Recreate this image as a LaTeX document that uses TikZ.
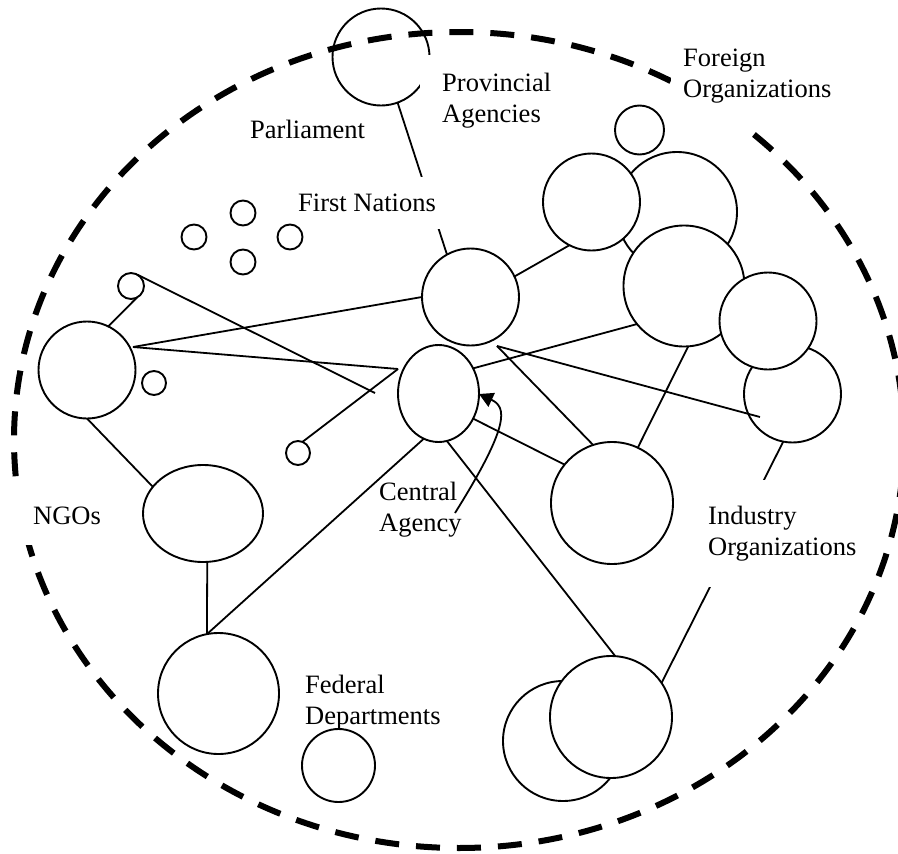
\documentclass[tikz,border=0pt]{standalone}
\usepackage{fontspec}
\setmainfont{Liberation Serif}
\usetikzlibrary{shapes.geometric,arrows.meta}
\begin{document}
\begin{tikzpicture}[x=1pt,y=-1pt,
  orb/.style={circle,draw,fill=white,line width=1.9pt,inner sep=0pt,outer sep=0pt,minimum size=#1},
  oval/.style 2 args={ellipse,draw,fill=white,line width=1.9pt,inner sep=0pt,outer sep=0pt,minimum width=#1,minimum height=#2},
  link/.style={line width=1.8pt},
  lbl/.style={font=\fontsize{26.5}{31}\selectfont,align=left,anchor=north west,inner sep=0pt},
  mask/.style={fill=white}]

\fill[white] (0,0) rectangle (898,854);
\useasboundingbox (0,0) rectangle (898,854);

% actors
\node[orb=97pt] (prov) at (381,57) {};
\node[orb=49pt] (c1) at (639.5,130) {};
\node[orb=120pt] (c3) at (677,212) {};
\node[orb=97pt] (c2) at (591.5,202) {};
\node[orb=121pt] (c4) at (684,286) {};
\node[orb=97pt] (c5b) at (792.5,394) {};
\node[orb=97pt] (c5a) at (768,321) {};
\node[orb=97pt] (fn) at (470.5,297) {};
\node[oval={81pt}{97pt}] (cen) at (438.5,393.5) {};
\node[orb=122pt] (c6) at (612,503) {};
\node[orb=120pt] (b1) at (563,741) {};
\node[orb=122pt] (b2) at (611,717) {};
\node[orb=97pt] (ngo) at (87,370) {};
\node[orb=26pt] (sa) at (131,286) {};
\node[orb=24pt] (sb) at (154,383) {};
\node[orb=24pt] (sc) at (298,453) {};
\node[oval={120pt}{97pt}] (ngoe) at (203,513.5) {};
\node[orb=121pt] (fed) at (218.5,693.5) {};
\node[orb=73pt] (fed2) at (338.5,765.5) {};

% policy community boundary
\draw[line width=6pt, dash pattern=on 24pt off 17pt] (459,440) ellipse [x radius=445pt, y radius=408pt];

% free ends and bends of the links
\coordinate (v1) at (133,347);
\coordinate (v2) at (398,369);
\coordinate (v3) at (497,346);
\coordinate (e1) at (375,393);
\coordinate (e2) at (760,417);
\coordinate (a0) at (455,513);
\coordinate (a1) at (479,394);

% links
\draw[link] (prov.-70) -- (fn.119);
\draw[link] (sa.-63) -- (ngo.64);
\draw[link] (sa.61) -- (e1);
\draw[link] (v1) -- (fn.west);
\draw[link] (v1) -- (v2);
\draw[link] (v2) -- (sc.68);
\draw[link] (cen.252) -- (fed.101);
\draw[link] (ngoe.-85) -- (fed.101);
\draw[link] (ngo.south) -- (ngoe.152);
\draw[link] (fn.25) -- (c2.243);
\draw[link] (cen.36) -- (c4.219);
\draw[link] (v3) -- (c6.108);
\draw[link] (v3) -- (e2);
\draw[link] (cen.-36) -- (c6.141);
\draw[link] (c4.-86) -- (c6.65);
\draw[link] (cen.-80) -- (b2.86);
\draw[link] (c5b.259) -- (b2.34);
\draw[link,-{Triangle[length=14pt,width=15pt]}] (a0) .. controls (510,425) and (507,407) .. (a1);

% labels
\node[lbl,mask,inner xsep=22pt,inner ysep=18pt] (provlbl) at (420,55) {Provincial\\Agencies};
\node[lbl] (parl) at (250,120) {Parliament};
\node[lbl,mask,inner xsep=8pt,inner ysep=17pt] (fnlbl) at (290,177) {First Nations};
\node[lbl,mask,inner xsep=12pt,inner ysep=24pt] (forlbl) at (671,25) {Foreign\\Organizations};
\node[lbl,mask,inner xsep=20pt,inner ysep=20pt] (ngolbl) at (13,487) {NGOs};
\node[lbl] (cenlbl) at (379,482) {Central\\Agency};
\node[lbl,mask,inner xsep=12pt,inner ysep=26pt] (indlbl) at (696,480) {Industry\\Organizations};
\node[lbl] (fedlbl) at (305,675) {Federal\\Departments};

% unlinked actors near the First Nations
\node[orb=25pt] (q1) at (243,213) {};
\node[orb=25pt] (q2) at (194,237) {};
\node[orb=25pt] (q3) at (290,237) {};
\node[orb=25pt] (q4) at (243,262) {};
\end{tikzpicture}
\end{document}
